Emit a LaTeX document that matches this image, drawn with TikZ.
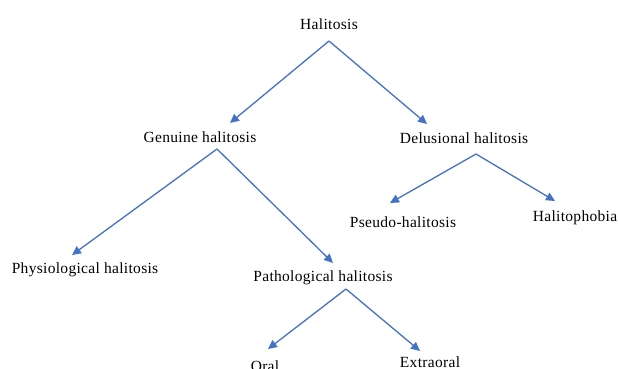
\documentclass[tikz,border=0pt]{standalone}
\usepackage{fontspec}
\setmainfont[LetterSpace=2]{Liberation Serif}
\usetikzlibrary{arrows.meta}
\definecolor{arrowblue}{HTML}{4472C4}
\begin{document}
\begin{tikzpicture}[x=1pt,y=-1pt,
  lbl/.style={inner sep=0pt,font=\fontsize{15.5}{18}\selectfont},
  conn/.style={draw=arrowblue,line width=1.3pt,-{Triangle[length=9pt,width=8.5pt]},fill=arrowblue}]
\useasboundingbox (0,0) rectangle (618,369);
\node[lbl] (h) at (329,24) {Halitosis};
\node[lbl] (g) at (200,137) {Genuine halitosis};
\node[lbl] (d) at (464,138) {Delusional halitosis};
\node[lbl] (phy) at (85,270) {Physiological halitosis};
\node[lbl] (pat) at (323,278) {Pathological halitosis};
\node[lbl] (ps) at (403,222) {Pseudo-halitosis};
\node[lbl] (hp) at (575,218) {Halitophobia};
\node[lbl] (or) at (265,366) {Oral};
\node[lbl] (ex) at (430,362) {Extraoral};
\coordinate (h-o) at (329,41);
\coordinate (g-i) at (230,123);
\coordinate (d-i) at (427,124);
\coordinate (g-o) at (217,149);
\coordinate (phy-i) at (72,255);
\coordinate (pat-i) at (333,263);
\coordinate (d-o) at (476,154);
\coordinate (ps-i) at (390,203);
\coordinate (hp-i) at (555,201);
\coordinate (pat-o) at (346,289);
\coordinate (or-i) at (268,349);
\coordinate (ex-i) at (420,351);
\draw[conn] (h-o) -- (g-i);
\draw[conn] (h-o) -- (d-i);
\draw[conn] (g-o) -- (phy-i);
\draw[conn] (g-o) -- (pat-i);
\draw[conn] (d-o) -- (ps-i);
\draw[conn] (d-o) -- (hp-i);
\draw[conn] (pat-o) -- (or-i);
\draw[conn] (pat-o) -- (ex-i);
\end{tikzpicture}
\end{document}
